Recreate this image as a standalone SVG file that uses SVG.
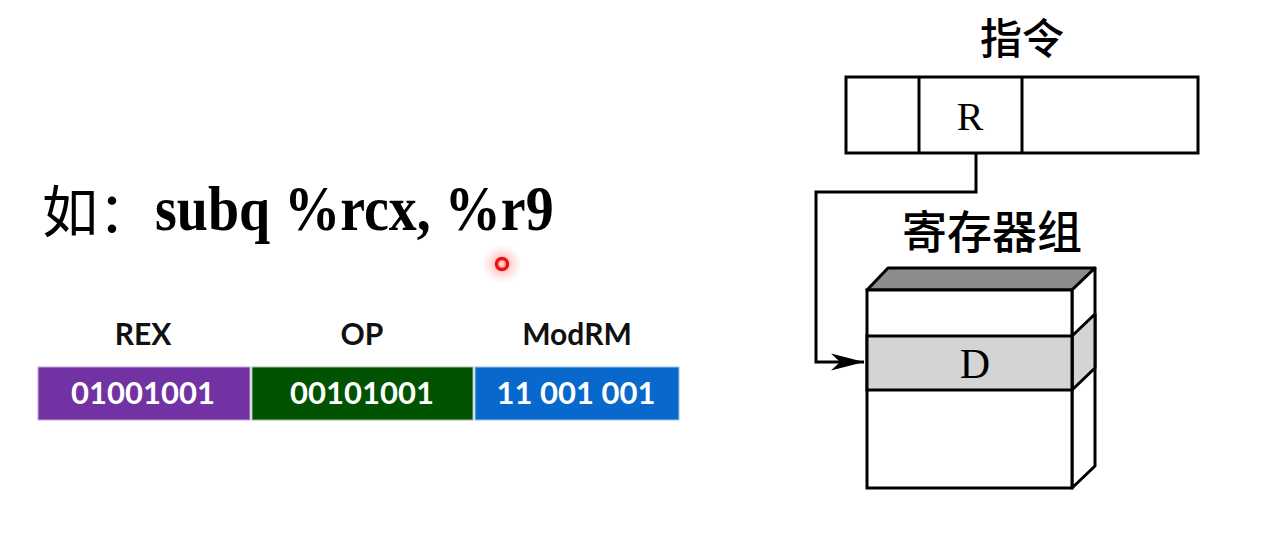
<svg xmlns="http://www.w3.org/2000/svg" width="1278" height="557" viewBox="0 0 1278 557">
  <defs>
    <style>
      .ln { fill: none; stroke: #000; stroke-width: 3; }
      .serif { font-family: "Liberation Serif", "Times New Roman", serif; fill: #000; }
      .cjk { font-family: "Noto Sans CJK SC", "Noto Sans CJK JP", sans-serif; fill: #000; }
      .lab { font-family: Lato, "Open Sans", "Liberation Sans", sans-serif; font-weight: bold; font-size: 30px; fill: #111; text-anchor: middle; }
      .bits { font-family: Lato, "Open Sans", "Liberation Sans", sans-serif; font-weight: bold; font-size: 31px; fill: #fff; text-anchor: middle; }
    </style>
    <marker id="arr" markerUnits="userSpaceOnUse" markerWidth="36" markerHeight="20" refX="34" refY="10" orient="auto">
      <path d="M1,1.5 L34,10 L1,18.5 L10,10 Z" fill="#000"/>
    </marker>
    <radialGradient id="glow">
      <stop offset="0" stop-color="#ff4040" stop-opacity="0.5"/>
      <stop offset="0.6" stop-color="#ff6060" stop-opacity="0.18"/>
      <stop offset="1" stop-color="#ff8080" stop-opacity="0"/>
    </radialGradient>
  </defs>
  <rect width="1278" height="557" fill="#fff"/>

  <g id="title">
    <text class="cjk" x="42" y="232" font-size="56">如：</text>
    <text class="serif" x="155" y="230" font-size="56" font-weight="bold" transform="translate(0,230) scale(1,1.12) translate(0,-230)">subq %rcx, %r9</text>
  </g>

  <g id="pointer">
    <circle cx="502" cy="264" r="20" fill="url(#glow)"/>
    <circle cx="502" cy="264" r="5.5" fill="none" stroke="#ee1111" stroke-width="3.5"/>
    <circle cx="502" cy="264" r="2.2" fill="#ffd0d0"/>
  </g>

  <g id="rex">
    <text class="lab" x="143" y="345">REX</text>
    <rect x="38" y="367" width="212" height="53" fill="#7232a3" stroke="#c9a8e0" stroke-width="1"/>
    <text class="bits" x="143" y="404">01001001</text>
  </g>
  <g id="op">
    <text class="lab" x="362" y="345">OP</text>
    <rect x="252" y="367" width="221" height="53" fill="#015201" stroke="#9cc09c" stroke-width="1"/>
    <text class="bits" x="362" y="404">00101001</text>
  </g>
  <g id="modrm">
    <text class="lab" x="577" y="345">ModRM</text>
    <rect x="475" y="367" width="204" height="53" fill="#0868cc" stroke="#9cc4ee" stroke-width="1"/>
    <text class="bits" x="576" y="404">11 001 001</text>
  </g>

  <g id="instruction">
    <text class="cjk" x="1022" y="54" font-size="42" font-weight="500" text-anchor="middle">指令</text>
    <rect class="ln" x="846" y="77" width="352" height="76"/>
    <line class="ln" x1="919" y1="77" x2="919" y2="153"/>
    <line class="ln" x1="1022" y1="77" x2="1022" y2="153"/>
    <text class="serif" x="970" y="130" font-size="40" text-anchor="middle">R</text>
  </g>

  <g id="register-file">
    <text class="cjk" x="992" y="249" font-size="45" font-weight="500" text-anchor="middle">寄存器组</text>
    <polygon points="867,290 888,268 1095,268 1072,290" fill="#8c8c8c" stroke="#000" stroke-width="3" stroke-linejoin="round"/>
    <polygon points="1072,290 1095,268 1095,466 1072,488" fill="#fff" stroke="#000" stroke-width="3" stroke-linejoin="round"/>
    <polygon points="1072,336 1095,314 1095,368 1072,390" fill="#d4d4d4" stroke="#000" stroke-width="3" stroke-linejoin="round"/>
    <rect x="867" y="290" width="205" height="198" fill="#fff" stroke="#000" stroke-width="3"/>
    <rect x="867" y="336" width="205" height="54" fill="#d4d4d4" stroke="#000" stroke-width="3"/>
    <text class="serif" x="975" y="378" font-size="42" text-anchor="middle">D</text>
  </g>

  <g id="connectors">
    <path class="ln" d="M976,153 V192 H816 V362 H864" marker-end="url(#arr)"/>
  </g>
</svg>
